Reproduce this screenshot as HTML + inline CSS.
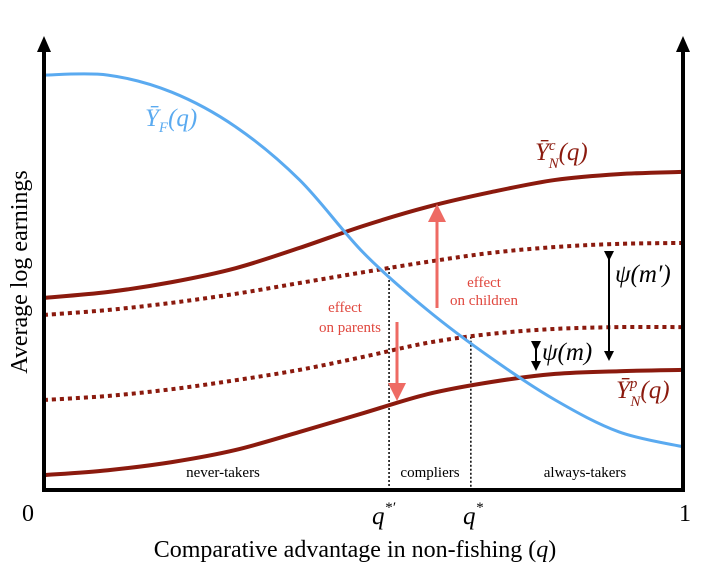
<!DOCTYPE html>
<html><head><meta charset="utf-8">
<style>
body{margin:0;background:#fff;}
svg{display:block;font-family:"Liberation Serif",serif;}
</style></head>
<body>
<svg id="chart" width="711" height="564" viewBox="0 0 711 564">
<defs>
<marker id="ahr" markerWidth="6" markerHeight="6" refX="3" refY="3" orient="auto"><path d="M0,0 L6,3 L0,6 z" fill="#ee6a63"/></marker>
<marker id="ahk" markerWidth="5" markerHeight="5" refX="2.5" refY="2.5" orient="auto"><path d="M0,0 L5,2.5 L0,5 z" fill="#000"/></marker>
</defs>
<g id="curves"></g>
<g id="axes">
<line x1="44" y1="490" x2="44" y2="46" stroke="#000" stroke-width="4"/>
<polygon points="44,36 37,52 51,52" fill="#000"/>
<line x1="683" y1="490" x2="683" y2="46" stroke="#000" stroke-width="4"/>
<polygon points="683,36 676,52 690,52" fill="#000"/>
<line x1="42" y1="490" x2="685" y2="490" stroke="#000" stroke-width="4"/>
</g>
<text x="22" y="521" font-size="24">0</text>
<text x="679" y="521" font-size="24">1</text>
<text x="372" y="524" font-size="25" font-style="italic">q<tspan font-size="15" dy="-12">*′</tspan></text>
<text x="463" y="524" font-size="25" font-style="italic">q<tspan font-size="15" dy="-12">*</tspan></text>
<text x="355" y="557" font-size="24" text-anchor="middle">Comparative advantage in non-fishing (<tspan font-style="italic">q</tspan>)</text>
<text transform="translate(27,272) rotate(-90)" font-size="24" text-anchor="middle">Average log earnings</text>
<text x="223" y="477" font-size="15" text-anchor="middle">never-takers</text>
<text x="430" y="477" font-size="15" text-anchor="middle">compliers</text>
<text x="585" y="477" font-size="15" text-anchor="middle">always-takers</text>
<text x="145" y="126" font-size="25" font-style="italic" fill="#5aaaf0">Ȳ<tspan font-size="15" dy="6">F</tspan><tspan dy="-6">(q)</tspan></text>
<text x="535" y="160" font-size="25" font-style="italic" fill="#8b1a0e">Ȳ<tspan font-size="15" dy="-10">c</tspan><tspan font-size="15" dx="-7" dy="18">N</tspan><tspan dy="-8">(q)</tspan></text>
<text x="616" y="398" font-size="25" font-style="italic" fill="#8b1a0e">Ȳ<tspan font-size="15" dy="-10">p</tspan><tspan font-size="15" dx="-7" dy="18">N</tspan><tspan dy="-8">(q)</tspan></text>
<text x="615" y="282" font-size="25" font-style="italic">ψ(m′)</text>
<text x="542" y="360" font-size="25" font-style="italic">ψ(m)</text>
<text x="345" y="312" font-size="15" fill="#e0483f" text-anchor="middle">effect</text>
<text x="350" y="332" font-size="15" fill="#e0483f" text-anchor="middle">on parents</text>
<text x="484" y="287" font-size="15" fill="#e0483f" text-anchor="middle">effect</text>
<text x="484" y="305" font-size="15" fill="#e0483f" text-anchor="middle">on children</text>
<line x1="437" y1="308" x2="437" y2="213" stroke="#ee6a63" stroke-width="3" marker-end="url(#ahr)"/>
<line x1="397" y1="322" x2="397" y2="392" stroke="#ee6a63" stroke-width="3" marker-end="url(#ahr)"/>
<line x1="609" y1="256" x2="609" y2="356" stroke="#000" stroke-width="2" marker-start="url(#ahk)" marker-end="url(#ahk)"/>
<line x1="536" y1="346" x2="536" y2="366" stroke="#000" stroke-width="2" marker-start="url(#ahk)" marker-end="url(#ahk)"/>
</svg>
<script>
const qValues = [0,0.1,0.2,0.3,0.4,0.5,0.6,0.7,0.8,0.9,1];
const yFishing = [9.22,9.22,8.84,8.07,6.89,5.27,4.0,2.93,2.0,1.29,0.96];
const yNonFishChildren = [4.27,4.4,4.62,4.93,5.38,5.87,6.29,6.62,6.89,7.02,7.07];
const yNonFishPsiMprime = [3.89,4.0,4.16,4.36,4.6,4.84,5.07,5.27,5.4,5.47,5.49];
const yNonFishPsiM = [2.0,2.09,2.24,2.44,2.67,2.96,3.27,3.47,3.58,3.62,3.62];
const yNonFishParents = [0.33,0.44,0.62,0.89,1.29,1.71,2.13,2.4,2.58,2.64,2.67];
const qStarPrime = 0.54;
const qStar = 0.668;

const xS = q => 44 + q*639;
const yS = v => 490 - v*45;
const NS = 'http://www.w3.org/2000/svg';
const g = document.getElementById('curves');

function pathFor(vals){
  const p = qValues.map((q,i)=>[xS(q),yS(vals[i])]);
  let d = `M${p[0][0]},${p[0][1]}`;
  for(let i=0;i<p.length-1;i++){
    const p0=p[Math.max(0,i-1)],p1=p[i],p2=p[i+1],p3=p[Math.min(p.length-1,i+2)];
    const c1=[p1[0]+(p2[0]-p0[0])/6,p1[1]+(p2[1]-p0[1])/6];
    const c2=[p2[0]-(p3[0]-p1[0])/6,p2[1]-(p3[1]-p1[1])/6];
    d+=` C${c1[0]},${c1[1]} ${c2[0]},${c2[1]} ${p2[0]},${p2[1]}`;
  }
  return d;
}
function interp(vals,q){
  for(let i=0;i<qValues.length-1;i++){
    if(q>=qValues[i]&&q<=qValues[i+1]){
      const t=(q-qValues[i])/(qValues[i+1]-qValues[i]);
      return vals[i]+t*(vals[i+1]-vals[i]);
    }
  }
  return vals[vals.length-1];
}
function addVline(q,vals,name){
  const l=document.createElementNS(NS,'line');
  l.setAttribute('x1',xS(q));l.setAttribute('x2',xS(q));
  l.setAttribute('y1',yS(interp(vals,q)));l.setAttribute('y2',488);
  l.setAttribute('stroke','#000');l.setAttribute('stroke-width','1.5');
  l.setAttribute('stroke-dasharray','2 2');
  
  
  g.appendChild(l);
}
addVline(qStarPrime,yNonFishPsiMprime,'qstar-prime-line');
addVline(qStar,yNonFishPsiM,'qstar-line');

function addCurve(vals,color,w,dash,name){
  const p=document.createElementNS(NS,'path');
  p.setAttribute('d',pathFor(vals));
  p.setAttribute('fill','none');
  p.setAttribute('stroke',color);
  p.setAttribute('stroke-width',w);
  if(dash) p.setAttribute('stroke-dasharray',dash);
  
  
  g.appendChild(p);
}
addCurve(yNonFishPsiMprime,'#8b1a0e',4,'4 4','curve-psi-mprime');
addCurve(yNonFishPsiM,'#8b1a0e',4,'4 4','curve-psi-m');
addCurve(yNonFishChildren,'#8b1a0e',4,null,'curve-ync');
addCurve(yNonFishParents,'#8b1a0e',4,null,'curve-ynp');
addCurve(yFishing,'#5aaaf0',3,null,'curve-yf');
</script>
</body></html>
